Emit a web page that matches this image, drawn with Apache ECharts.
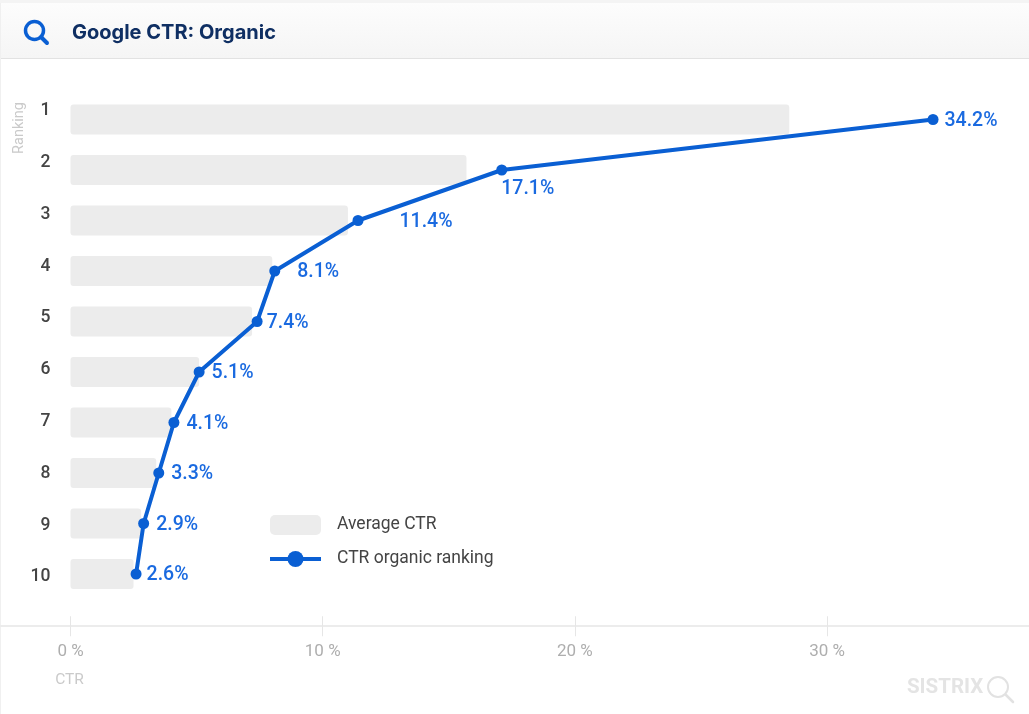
<!DOCTYPE html>
<html><head><meta charset="utf-8">
<style>html,body{margin:0;padding:0;background:#fff}#c{width:1029px;height:714px}</style>
<script src="https://cdn.jsdelivr.net/npm/echarts@6/dist/echarts.min.js"></script>
</head><body><div id="c"></div>
<script>
const rankings = ['1','2','3','4','5','6','7','8','9','10'];
const averageCtr = [28.5,15.7,11.0,8.0,7.2,5.1,4.0,3.4,2.8,2.5];
const organicCtr = [34.2,17.1,11.4,8.1,7.4,5.1,4.1,3.5,2.9,2.6];
const organicLabels = ['34.2%','17.1%','11.4%','8.1%','7.4%','5.1%','4.1%','3.3%','2.9%','2.6%'];
const labelGaps = [6,0,36,17,4,7,7,7,7,5];

const blue = '#0a5fd3';
const font = 'Roboto, sans-serif';
const chart = echarts.init(document.getElementById('c'), null, {renderer:'canvas'});
const sharedAxis = {type:'value', min:0, max:40, interval:10, offset:27, splitLine:{show:false}};
chart.setOption({
  animation:false,
  backgroundColor:'#fff',
  grid:[
    {left:70.5, top:94.25, width:1008.8, height:505, outerBoundsMode:'none'},
    {left:70.5, top:85.1, width:1008.8, height:517.8, outerBoundsMode:'none'}
  ],
  legend:{
    left:268, top:515, padding:0, orient:'vertical', itemWidth:51, itemHeight:20, itemGap:15,
    data:[{name:'Average CTR'},{name:'CTR organic ranking', lineStyle:{width:4}}],
    textStyle:{fontFamily:font, fontSize:17.5, color:'#444', padding:[7,0,0,11]}
  },
  xAxis:[
    Object.assign({}, sharedAxis, {
      position:'bottom',
      axisLine:{show:false},
      axisTick:{show:true, length:10, lineStyle:{color:'#e6e6e6', width:1}},
      axisLabel:{margin:17, fontFamily:font, fontSize:17, color:'#aeaeae', formatter:'{value} %'}
    }),
    Object.assign({}, sharedAxis, {
      position:'bottom',
      axisLine:{show:false},
      axisTick:{show:true, inside:true, length:10, lineStyle:{color:'#e6e6e6', width:1}},
      axisLabel:{show:false}
    }),
    {type:'value', gridIndex:1, min:0, max:40, show:false}
  ],
  yAxis:[
    {type:'category', inverse:true, data:rankings, show:false},
    {type:'category', gridIndex:1, inverse:true, data:rankings,
     axisLine:{show:false}, axisTick:{show:false},
     axisLabel:{margin:20, fontFamily:font, fontSize:17.5, fontWeight:500, color:'#444', align:'right'}}
  ],
  series:[
    {name:'Average CTR', type:'bar', data:averageCtr, barWidth:30, xAxisIndex:0, yAxisIndex:0,
     itemStyle:{color:'#ececec', borderRadius:3}},
    {name:'CTR organic ranking', type:'line', data:organicCtr.map((v,i)=>({
        value:v,
        label: i===1
          ? {position:'bottom', distance:2, offset:[26,2]}
          : {position:'right', distance:labelGaps[i], offset:[0,1.5]}
      })), xAxisIndex:0, yAxisIndex:0,
     symbol:'circle', symbolSize:11, z:5,
     lineStyle:{color:blue, width:4}, itemStyle:{color:blue},
     label:{show:true, fontFamily:font, fontSize:19.5, fontWeight:500, color:'#1a6ae0',
       formatter:p => organicLabels[p.dataIndex]}}
  ],
  graphic:[
    {type:'rect', z:-10, silent:true, shape:{x:0,y:0,width:1029,height:58},
     style:{fill:new echarts.graphic.LinearGradient(0,0,0,1,[{offset:0,color:'#fdfdfd'},{offset:1,color:'#f5f5f5'}])}},
    {type:'rect', z:-9, silent:true, shape:{x:0,y:0,width:1029,height:3}, style:{fill:'#f4f4f4'}},
    {type:'rect', z:-9, silent:true, shape:{x:0,y:58,width:1029,height:1}, style:{fill:'#e2e2e2'}},
    {type:'rect', z:-9, silent:true, shape:{x:0,y:3,width:1,height:711}, style:{fill:'#f0f0f0'}},
    {type:'rect', z:-9, silent:true, shape:{x:0,y:625,width:1029,height:2}, style:{fill:'#ececec'}},
    {type:'circle', shape:{cx:34.5,cy:30.5,r:9}, style:{fill:'none',stroke:blue,lineWidth:3.5}},
    {type:'line', shape:{x1:41,y1:37,x2:47,y2:43}, style:{stroke:blue,lineWidth:4,lineCap:'round'}},
    {type:'text', x:72, y:33, style:{text:'Google CTR: Organic', font:'700 20px Inter, sans-serif', fill:'#0f2f63', textVerticalAlign:'middle'}},
    {type:'text', x:19, y:128, rotation:Math.PI/2, style:{text:'Ranking', font:'14.5px Roboto, sans-serif', fill:'#cacaca', textAlign:'center', textVerticalAlign:'middle'}},
    {type:'text', x:69.5, y:680, style:{text:'CTR', font:'15.5px Roboto, sans-serif', fill:'#cacaca', textAlign:'center', textVerticalAlign:'middle'}},
    {type:'text', x:907, y:687.5, style:{text:'SISTRIX', font:'700 20.5px Roboto, sans-serif', fill:'#e4e4e4', textVerticalAlign:'middle'}},
    {type:'circle', shape:{cx:998,cy:687,r:10}, style:{fill:'none',stroke:'#e2e2e2',lineWidth:2}},
    {type:'line', shape:{x1:1006,y1:695,x2:1013,y2:702}, style:{stroke:'#e2e2e2',lineWidth:2.5,lineCap:'round'}}
  ]
});
</script></body></html>
